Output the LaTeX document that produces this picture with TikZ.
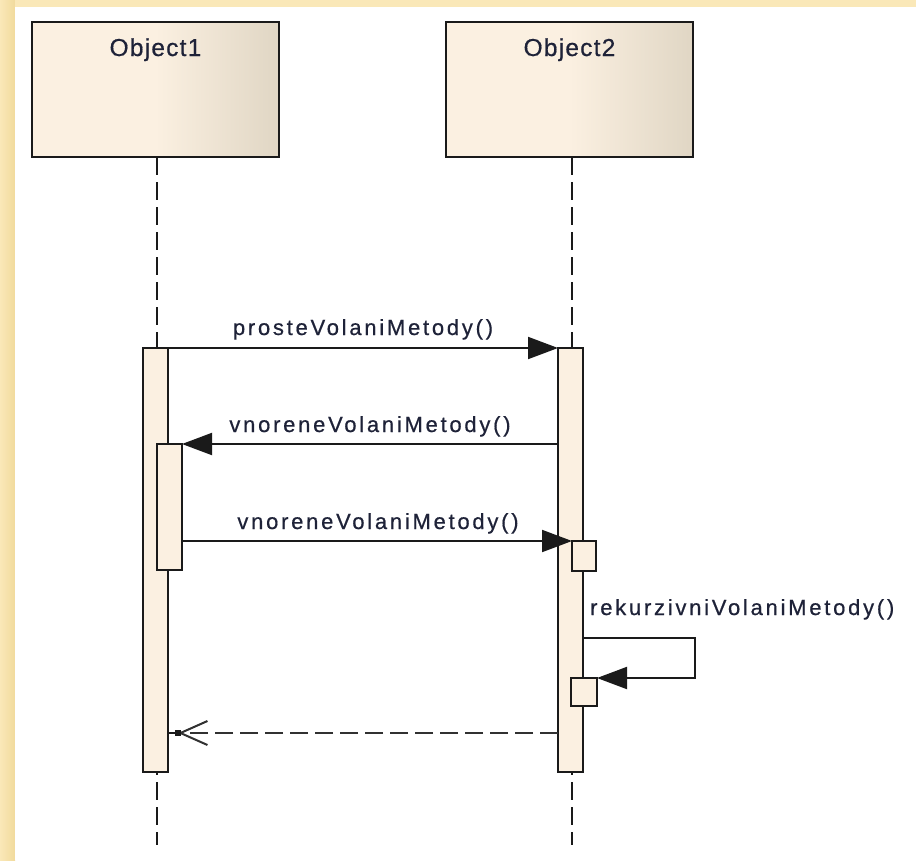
\documentclass[tikz,border=0pt]{standalone}
\usepackage{fontspec}
\setmainfont{Liberation Sans}
\newfontfamily\msgfont[LetterSpace=12.5,FakeBold=0.6]{Liberation Sans}
\newfontfamily\objfont[LetterSpace=5,FakeBold=0.6]{Liberation Sans}
\usetikzlibrary{arrows.meta,calc}
\definecolor{bgyellow}{HTML}{F1DA9C}
\definecolor{bglight}{HTML}{FAE8B8}
\definecolor{boxlight}{HTML}{FBF0E1}
\definecolor{boxdark}{HTML}{E0D6C4}
\definecolor{txt}{HTML}{1E2238}
\definecolor{ink}{HTML}{1A1A1A}
\begin{document}
\begin{tikzpicture}[x=1pt,y=-1pt,
  objbox/.style={draw=ink, line width=2.5pt, minimum width=247pt, minimum height=135pt,
    inner sep=0pt, outer sep=0pt, anchor=north west,
    left color=boxlight, right color=boxdark, middle color=boxlight},
  objlbl/.style={font=\objfont\fontsize{24.5}{28}\selectfont, text=txt, inner sep=0pt, anchor=base},
  activ/.style={draw=ink, line width=2pt, fill=boxlight, minimum width=25pt,
    inner sep=0pt, outer sep=0pt, anchor=north west},
  life/.style={draw=ink, line width=2pt, dash pattern=on 18pt off 7pt},
  msg/.style={draw=ink, line width=2pt, -{Triangle[length=30pt,width=22pt]}},
  ret/.style={draw=ink!90, line width=2pt, dash pattern=on 18pt off 7pt,
    -{Straight Barb[length=27pt,width=24pt,line width=2pt]}},
  msglbl/.style={font=\msgfont\fontsize{22}{24}\selectfont, text=txt, inner sep=0pt, anchor=base}
]
\useasboundingbox (0,0) rectangle (916,860);
% background
\shade[left color=bglight, right color=bgyellow] (0,0) rectangle (15,860);
\fill[bglight] (15,0) rectangle (916,7);
\fill[white] (15,7) rectangle (916,860);

% objects
\node[objbox] (o1) at (32,22) {};
\node[objbox] (o2) at (446,22) {};
\node[objlbl] (o1t) at (155.5,56) {Object1};
\node[objlbl] (o2t) at (569.5,56) {Object2};

% lifelines
\coordinate (l1end) at (157,845);
\coordinate (l2end) at (572,845);
\draw[life] (o1.south -| l1end) -- (l1end);
\draw[life] (o2.south -| l2end) -- (l2end);

% activation bars
\node[activ, minimum height=424pt] (b1) at (143,348) {};
\node[activ, minimum height=424pt] (b2) at (558,348) {};
\node[activ, minimum height=126pt] (n1) at (157,444) {};
\node[activ, minimum width=24pt, minimum height=30pt] (s1) at (572,541) {};
\node[activ, minimum width=26pt, minimum height=28pt] (s2) at (571,678) {};

% messages
\draw[msg] (b1.north east) -- (b2.north west);
\node[msglbl] (m1) at (363,335) {prosteVolaniMetody()};

\draw[msg] (b2.west |- n1.north) -- (n1.north east);
\node[msglbl] (m2) at (370,432) {vnoreneVolaniMetody()};

\draw[msg] (n1.east |- s1.north) -- (s1.north west);
\node[msglbl] (m3) at (378,529) {vnoreneVolaniMetody()};

\coordinate (r1) at (695,638);
\coordinate (r2) at (695,678);
\draw[msg] (b2.east |- r1) -- (r1) -- (r2) -- (s2.north east);
\node[msglbl, anchor=base west] (m4) at (590,615) {rekurzivniVolaniMetody()};

% return
\coordinate (rtip) at (178,733);
\draw[ret] (b2.west |- rtip) -- (rtip);
\draw[draw=ink, line width=2pt] (b1.east |- rtip) -- (rtip);
\fill[ink] ($(rtip)+(-3,-3)$) rectangle ($(rtip)+(3,3)$);
\end{tikzpicture}
\end{document}
